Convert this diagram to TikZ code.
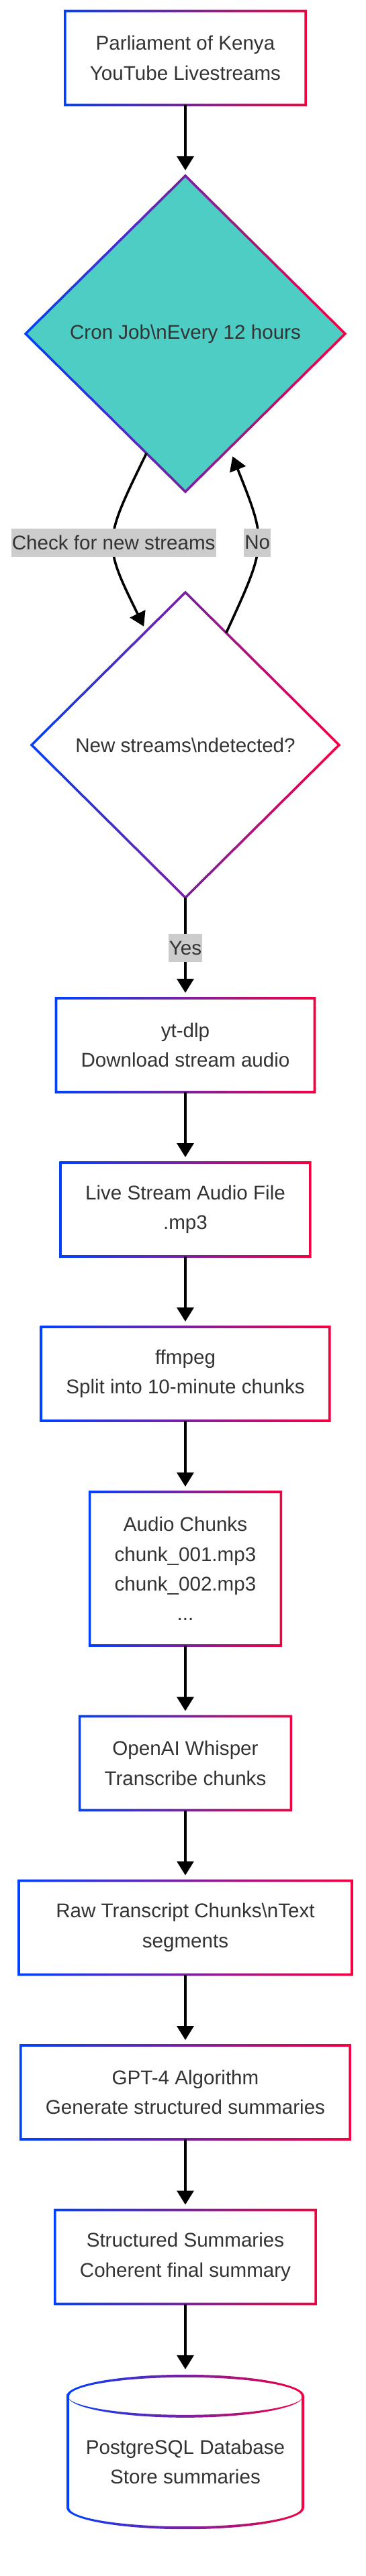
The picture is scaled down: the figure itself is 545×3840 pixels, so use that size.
\documentclass[tikz,border=0pt]{standalone}
\usepackage{fontspec}
\setmainfont{Liberation Sans}
\usetikzlibrary{shapes.geometric}
\usetikzlibrary{arrows.meta}
\definecolor{cblue}{HTML}{0040FF}
\definecolor{cred}{HTML}{F50040}
\definecolor{cteal}{HTML}{4ECDC4}
\definecolor{ctext}{HTML}{333333}
\definecolor{clabel}{HTML}{CCCCCC}
\tikzset{procbox/.style={rectangle, align=center, inner xsep=37pt, inner ysep=0pt, minimum height=140pt, outer sep=0pt}}
\tikzset{decision/.style={diamond, align=center, inner sep=0pt, outer sep=0pt}}
\tikzset{edgelabel/.style={fill=clabel, inner xsep=1pt, inner ysep=0pt, minimum height=42pt}}
\tikzset{flow/.style={line width=3.6pt, -{Triangle[width=25pt,length=21pt]}, shorten >=8pt}}
% gradient borders, blue on the left to red on the right
\newcommand{\gradbox}[1]{\shade[even odd rule, left color=cblue, right color=cred]
  ([shift={(-1.8pt,-1.8pt)}]#1.south west) rectangle ([shift={(1.8pt,1.8pt)}]#1.north east)
  ([shift={(1.8pt,1.8pt)}]#1.south west) rectangle ([shift={(-1.8pt,-1.8pt)}]#1.north east);}
\newcommand{\graddiamond}[1]{\shade[even odd rule, left color=cblue, right color=cred]
  ([yshift=2.5pt]#1.north) -- ([xshift=2.5pt]#1.east) -- ([yshift=-2.5pt]#1.south) -- ([xshift=-2.5pt]#1.west) -- cycle
  ([yshift=-2.5pt]#1.north) -- ([xshift=-2.5pt]#1.east) -- ([yshift=2.5pt]#1.south) -- ([xshift=2.5pt]#1.west) -- cycle;}
\newcommand{\gradcyl}[1]{\shade[even odd rule, left color=cblue, right color=cred]
  ([xshift=-177pt]#1.north) arc[start angle=180, end angle=0, x radius=177pt, y radius=32pt]
    -- ([xshift=177pt, yshift=30pt]#1.south) arc[start angle=0, end angle=-180, x radius=177pt, y radius=32pt] -- cycle
  ([xshift=-173pt]#1.north) arc[start angle=180, end angle=0, x radius=173pt, y radius=28pt]
    -- ([xshift=173pt, yshift=30pt]#1.south) arc[start angle=0, end angle=-180, x radius=173pt, y radius=28pt] -- cycle;
  \shade[left color=cblue, right color=cred]
  ([xshift=-175pt]#1.north) arc[start angle=180, end angle=360, x radius=175pt, y radius=32pt]
    arc[start angle=360, end angle=180, x radius=175pt, y radius=28pt] -- cycle;}

\begin{document}
\begin{tikzpicture}[x=1pt, y=-1pt, every node/.style={font=\fontsize{29.6}{44.4}\selectfont, text=ctext}]
\useasboundingbox (0,0) rectangle (545,3840);

\node[procbox] (src) at (276,86.5) {Parliament of Kenya\\YouTube Livestreams};
\node[decision, fill=cteal, minimum width=476pt, minimum height=471pt] (cron) at (276,497.5) {Cron Job\textbackslash nEvery 12 hours};
\node[decision, minimum width=458pt, minimum height=455pt] (dec) at (276,1110.5) {New streams\textbackslash ndetected?};
\node[procbox] (ytdlp) at (276,1558) {yt-dlp\\Download stream audio};
\node[procbox] (live) at (276,1803) {Live Stream Audio File\\.mp3};
\node[procbox] (ffm) at (276,2048) {ffmpeg\\Split into 10-minute chunks};
\node[procbox, minimum height=229pt] (chunks) at (276,2338.5) {Audio Chunks\\chunk\_001.mp3\\chunk\_002.mp3\\...};
\node[procbox] (whisper) at (276,2628.5) {OpenAI Whisper\\Transcribe chunks};
\node[procbox, minimum width=496pt] (raw) at (276,2873.5) {Raw Transcript Chunks\textbackslash nText\\segments};
\node[procbox] (gpt) at (276,3119) {GPT-4 Algorithm\\Generate structured summaries};
\node[procbox] (summ) at (276,3364.5) {Structured Summaries\\Coherent final summary};
\node[rectangle, align=center, minimum width=350pt, minimum height=196pt, inner sep=0pt] (db) at (276,3670) {PostgreSQL Database\\Store summaries};

\foreach \n in {src,ytdlp,live,ffm,chunks,whisper,raw,gpt,summ} {\gradbox{\n}}
\graddiamond{cron}
\graddiamond{dec}
\gradcyl{db}

\draw[flow] (src) -- (cron);
\draw[flow] (cron.252) .. controls (153,809) .. (dec.109) node[edgelabel, pos=0.5] {Check for new streams};
\draw[flow, shorten >=13pt] (dec.70) .. controls (398,810) .. (cron.291) node[edgelabel, pos=0.5] {No};
\draw[flow] (dec) -- (ytdlp) node[edgelabel, pos=0.5] {Yes};
\draw[flow] (ytdlp) -- (live);
\draw[flow] (live) -- (ffm);
\draw[flow] (ffm) -- (chunks);
\draw[flow] (chunks) -- (whisper);
\draw[flow] (whisper) -- (raw);
\draw[flow] (raw) -- (gpt);
\draw[flow] (gpt) -- (summ);
\draw[flow, shorten >=40pt] (summ) -- (db);
\end{tikzpicture}
\end{document}
